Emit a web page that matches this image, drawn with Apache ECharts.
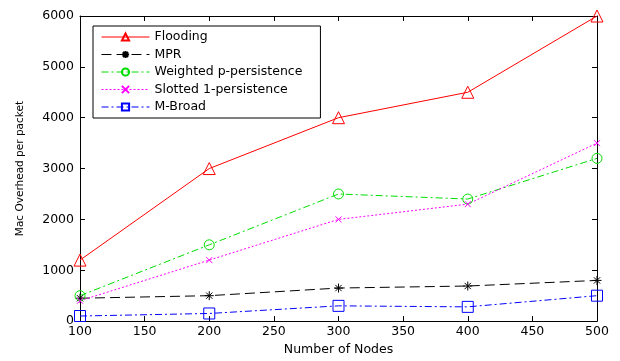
<!DOCTYPE html>
<html>
<head>
<meta charset="utf-8">
<script src="https://cdn.jsdelivr.net/npm/echarts@6/dist/echarts.min.js"></script>
<style>
  html, body { margin: 0; padding: 0; background: #fff; }
  #chart { width: 620px; height: 361px; }
</style>
</head>
<body>
<div id="chart"></div>
<script>
const nodes = [100, 200, 300, 400, 500];
const flooding = [1200, 3000, 4000, 4500, 6000];
const mpr = [450, 500, 650, 690, 800];
const weighted = [500, 1500, 2500, 2400, 3200];
const slotted = [400, 1200, 2000, 2300, 3500];
const mbroad = [100, 150, 300, 280, 500];

const font = "DejaVu Sans, Verdana, sans-serif";
const star = "path://M0,-10L0,10M-10,0L10,0M-7,-7L7,7M-7,7L7,-7";
const cross = "path://M-10,-10L10,10M-10,10L10,-10";

const chart = echarts.init(document.getElementById("chart"), null, { renderer: "canvas" });

function line(name, data, color, dash, symbol, size) {
  return {
    name,
    type: "line",
    data: nodes.map((n, i) => [n, data[i]]),
    symbol,
    symbolSize: size,
    lineStyle: { color, width: 1, type: dash },
    itemStyle: { color: "rgba(0,0,0,0)", borderColor: color, borderWidth: 1 },
    emphasis: { disabled: true },
    z: 3,
  };
}

const axisCommon = {
  axisLine: { show: true, onZero: false, lineStyle: { color: "#000", width: 1 } },
  axisTick: { show: true, inside: true, length: 5, lineStyle: { color: "#000" } },
  splitLine: { show: false },
};

chart.setOption({
  animation: false,
  textStyle: { fontFamily: font },
  grid: { left: 80, right: 23, top: 16, bottom: 33 },
  legend: {
    orient: "vertical",
    left: 93,
    top: 26,
    padding: [4, 18, 4, 8],
    backgroundColor: "#fff",
    borderColor: "#000",
    borderWidth: 1,
    itemWidth: 48,
    itemHeight: 9,
    itemGap: 3.5,
    lineStyle: { width: 1 },
    textStyle: { fontSize: 12.5, color: "#000", fontFamily: font, lineHeight: 14 },
    data: ["Flooding", "MPR", "Weighted p-persistence", "Slotted 1-persistence", "M-Broad"],
  },
  xAxis: [
    {
      type: "value", min: 100, max: 500, interval: 50,
      name: "Number of Nodes", nameLocation: "middle", nameGap: 20,
      nameTextStyle: { fontSize: 12.5, color: "#000" },
      axisLabel: { fontSize: 12.5, color: "#000", margin: 4 },
      ...axisCommon,
    },
    {
      type: "value", min: 100, max: 500, interval: 50, position: "top",
      axisLabel: { show: false }, ...axisCommon,
    },
  ],
  yAxis: [
    {
      type: "value", min: 0, max: 6000, interval: 1000,
      name: "Mac Overhead per packet", nameLocation: "middle", nameGap: 54,
      nameTextStyle: { fontSize: 10.5, color: "#000" },
      axisLabel: { fontSize: 12.5, color: "#000", margin: 6, formatter: (v) => String(v) },
      ...axisCommon,
    },
    {
      type: "value", min: 0, max: 6000, interval: 1000, position: "right",
      axisLabel: { show: false }, ...axisCommon,
    },
  ],
  series: [
    line("Flooding", flooding, "#ff0000", "solid", "triangle", 12),
    line("MPR", mpr, "#000000", [10, 5], star, 9),
    line("Weighted p-persistence", weighted, "#00dd00", [7, 3, 2, 3], "circle", 10),
    line("Slotted 1-persistence", slotted, "#ff00ff", [2, 2], cross, 6),
    line("M-Broad", mbroad, "#0000ff", [7, 3, 2, 3], "rect", 11),
  ],
});
</script>
</body>
</html>
